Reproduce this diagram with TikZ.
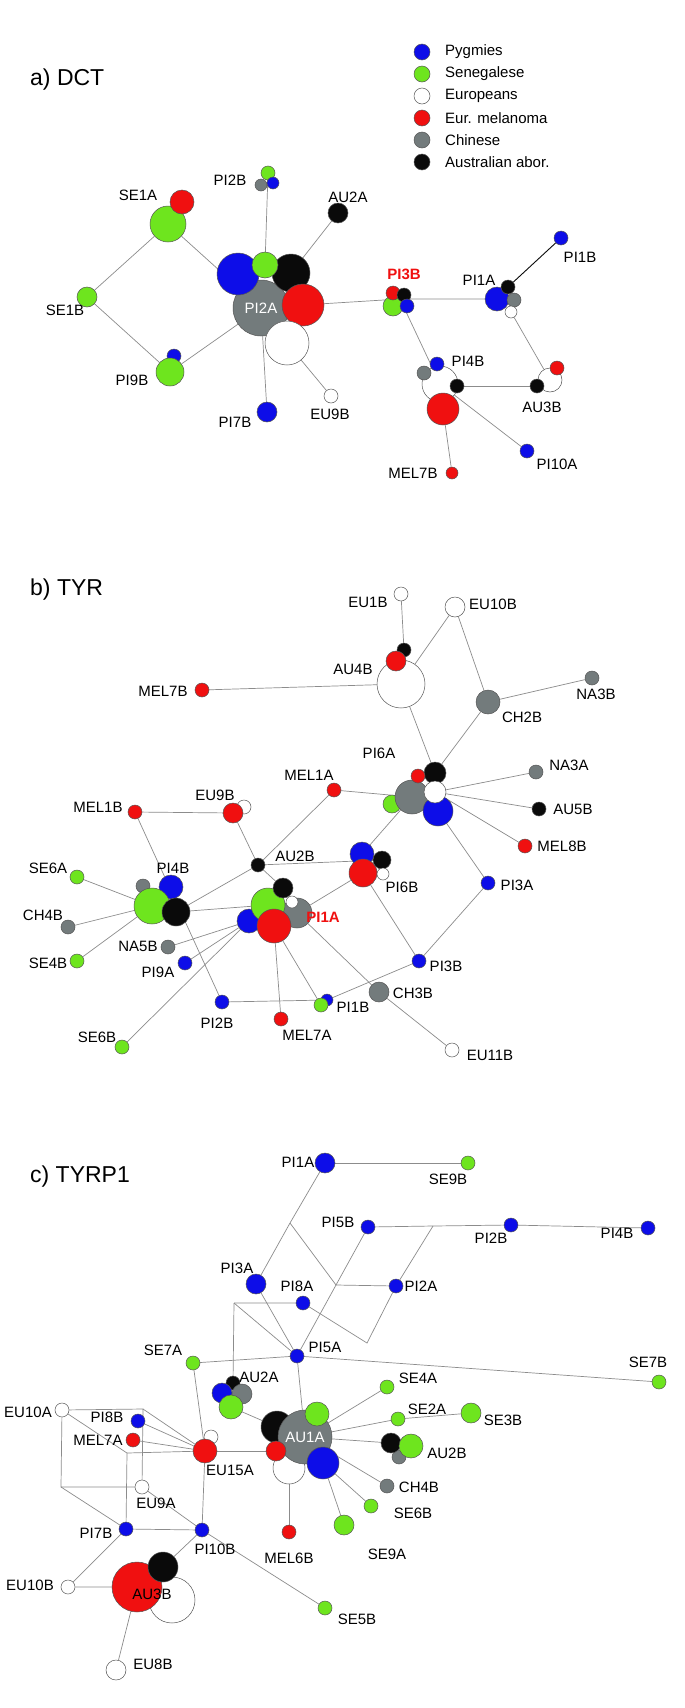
\documentclass[tikz,border=0pt]{standalone}
\usepackage{fontspec}
\setmainfont{Liberation Sans}
\usetikzlibrary{backgrounds}
\definecolor{Pyg}{HTML}{0D0DE8}
\definecolor{Sen}{HTML}{6EE51E}
\definecolor{Mel}{HTML}{F01010}
\definecolor{Chi}{HTML}{737B7C}
\definecolor{Aus}{HTML}{0A0A0A}
\definecolor{Rim}{HTML}{555555}
\definecolor{Line}{HTML}{8C8C8C}
\tikzset{
    hap/.style={circle, draw=Rim, line width=0.5pt, inner sep=0pt, minimum size=#1pt},
    pyg/.style={hap=#1, fill=Pyg},
    sen/.style={hap=#1, fill=Sen},
    eur/.style={hap=#1, fill=white},
    mel/.style={hap=#1, fill=Mel},
    chi/.style={hap=#1, fill=Chi},
    aus/.style={hap=#1, fill=Aus},
    lbl/.style={inner sep=0pt, font=\fontsize{15}{18}\selectfont},
    hot/.style={inner sep=0pt, text=Mel, font=\fontsize{15}{18}\selectfont\bfseries},
    ttl/.style={anchor=west, inner sep=0pt, font=\fontsize{23}{28}\selectfont},
    link/.style={draw=Line, line width=0.7pt},
}
\begin{document}
\begin{tikzpicture}[x=1pt, y=-1pt]
    \path[use as bounding box] (0,0) rectangle (685,1708);

    % Legend
    \foreach \c/\t [count=\i] in {Pyg/Pygmies, Sen/Senegalese, white/Europeans, Mel/Eur. melanoma, Chi/Chinese, Aus/Australian abor.}{
        \node[hap=16, fill=\c] (key\i) at (422,{30+22*\i}) {};
        \node[lbl, anchor=west] (key\i-l) at (445,{30+22*\i}) {\t};
    }

    % a) DCT
    \node[ttl] (ta) at (30,80) {a) DCT};
    \node[sen=36] (a-se1a) at (168,224) {};
    \node[mel=24] (a-se1a-r) at (182,202) {};
    \node[lbl] (a-se1a-l) at (138,195) {SE1A};
    \node[sen=20] (a-se1b) at (87,297) {};
    \node[lbl] (a-se1b-l) at (65,310) {SE1B};
    \node[pyg=14] (a-pi9b-b) at (174,356) {};
    \node[sen=28] (a-pi9b) at (170,372) {};
    \node[lbl] (a-pi9b-l) at (132,380) {PI9B};
    \node[chi=56, text=white, font=\fontsize{15}{18}\selectfont] (a-pi2a) at (261,308) {PI2A};
    \node[pyg=42] (a-pi2a-b) at (238,274) {};
    \node[aus=38] (a-pi2a-k) at (291,273) {};
    \node[mel=42] (a-pi2a-r) at (303,305) {};
    \node[eur=44] (a-pi2a-w) at (287,343) {};
    \node[sen=26] (a-pi2a-g) at (265,265) {};
    \node[sen=14] (a-pi2b) at (268,173) {};
    \node[chi=12] (a-pi2b-c) at (261,185) {};
    \node[pyg=12] (a-pi2b-b) at (273,183) {};
    \node[lbl] (a-pi2b-l) at (230,180) {PI2B};
    \node[aus=20] (a-au2a) at (338,213) {};
    \node[lbl] (a-au2a-l) at (348,197) {AU2A};
    \node[pyg=20] (a-pi7b) at (267,412) {};
    \node[lbl] (a-pi7b-l) at (235,422) {PI7B};
    \node[eur=14] (a-eu9b) at (331,396) {};
    \node[lbl] (a-eu9b-l) at (330,414) {EU9B};
    \coordinate (a-pi3b) at (400,299);
    \node[sen=20] (a-pi3b-g) at (393,306) {};
    \node[mel=14] (a-pi3b-r) at (393,293) {};
    \node[aus=14] (a-pi3b-k) at (404,295) {};
    \node[pyg=14] (a-pi3b-b) at (407,306) {};
    \node[hot] (a-pi3b-l) at (404,274) {PI3B};
    \node[pyg=24] (a-pi1a) at (497,299) {};
    \node[aus=14] (a-pi1a-k) at (508,287) {};
    \node[chi=14] (a-pi1a-c) at (514,300) {};
    \node[eur=12] (a-pi1a-w) at (511,312) {};
    \node[lbl] (a-pi1a-l) at (479,280) {PI1A};
    \node[pyg=14] (a-pi1b) at (561,238) {};
    \node[lbl] (a-pi1b-l) at (580,257) {PI1B};
    \node[eur=36] (a-pi4b) at (440,384) {};
    \node[pyg=14] (a-pi4b-b) at (437,364) {};
    \node[chi=14] (a-pi4b-c) at (424,373) {};
    \node[aus=14] (a-pi4b-k) at (457,386) {};
    \node[mel=32] (a-pi4b-r) at (443,409) {};
    \node[lbl] (a-pi4b-l) at (468,361) {PI4B};
    \node[eur=24] (a-au3b) at (550,380) {};
    \node[aus=14] (a-au3b-k) at (537,386) {};
    \node[mel=14] (a-au3b-r) at (557,368) {};
    \node[lbl] (a-au3b-l) at (542,407) {AU3B};
    \node[mel=12] (a-mel7b) at (452,473) {};
    \node[lbl] (a-mel7b-l) at (413,473) {MEL7B};
    \node[pyg=14] (a-pi10a) at (527,451) {};
    \node[lbl] (a-pi10a-l) at (557,464) {PI10A};

    % b) TYR
    \node[ttl] (tb) at (30,590) {b) TYR};
    \node[mel=14] (b-mel7b) at (202,690) {};
    \node[lbl] (b-mel7b-l) at (163,691) {MEL7B};
    \node[eur=14] (b-eu1b) at (401,594) {};
    \node[lbl] (b-eu1b-l) at (368,602) {EU1B};
    \node[eur=20] (b-eu10b) at (455,607) {};
    \node[lbl] (b-eu10b-l) at (493,604) {EU10B};
    \node[eur=48] (b-au4b) at (401,684) {};
    \node[aus=14] (b-au4b-k) at (404,650) {};
    \node[mel=20] (b-au4b-r) at (396,661) {};
    \node[lbl] (b-au4b-l) at (353,669) {AU4B};
    \node[chi=24] (b-ch2b) at (488,702) {};
    \node[lbl] (b-ch2b-l) at (522,717) {CH2B};
    \node[chi=14] (b-na3b) at (592,678) {};
    \node[lbl] (b-na3b-l) at (596,694) {NA3B};
    \node[sen=18] (b-pi6a-g) at (392,804) {};
    \node[chi=34] (b-pi6a) at (412,797) {};
    \node[pyg=30] (b-pi6a-b) at (438,811) {};
    \node[aus=22] (b-pi6a-k) at (435,773) {};
    \node[eur=22] (b-pi6a-w) at (435,792) {};
    \node[mel=14] (b-pi6a-r) at (418,776) {};
    \node[lbl] (b-pi6a-l) at (379,753) {PI6A};
    \node[chi=14] (b-na3a) at (536,772) {};
    \node[lbl] (b-na3a-l) at (569,765) {NA3A};
    \node[aus=14] (b-au5b) at (539,809) {};
    \node[lbl] (b-au5b-l) at (573,809) {AU5B};
    \node[mel=14] (b-mel8b) at (525,846) {};
    \node[lbl] (b-mel8b-l) at (562,846) {MEL8B};
    \node[mel=14] (b-mel1a) at (334,790) {};
    \node[lbl] (b-mel1a-l) at (309,775) {MEL1A};
    \node[eur=14] (b-eu9b-w) at (244,807) {};
    \node[mel=20] (b-eu9b) at (233,813) {};
    \node[lbl] (b-eu9b-l) at (215,795) {EU9B};
    \node[aus=14] (b-au2b) at (258,865) {};
    \node[lbl] (b-au2b-l) at (295,856) {AU2B};
    \node[pyg=24] (b-pi6b-b) at (362,854) {};
    \node[aus=18] (b-pi6b-k) at (382,860) {};
    \node[mel=28] (b-pi6b) at (363,873) {};
    \node[eur=12] (b-pi6b-w) at (383,874) {};
    \node[lbl] (b-pi6b-l) at (402,887) {PI6B};
    \node[pyg=14] (b-pi3a) at (488,883) {};
    \node[lbl] (b-pi3a-l) at (517,885) {PI3A};
    \node[chi=30] (b-pi1a-c) at (297,913) {};
    \node[pyg=24] (b-pi1a-b) at (249,921) {};
    \node[sen=34] (b-pi1a-g) at (268,905) {};
    \node[aus=20] (b-pi1a-k) at (283,888) {};
    \node[eur=12] (b-pi1a-w) at (292,902) {};
    \node[mel=34] (b-pi1a) at (274,926) {};
    \node[hot] (b-pi1a-l) at (323,917) {PI1A};
    \node[chi=14] (b-pi4b-c) at (143,886) {};
    \node[pyg=24] (b-pi4b-b) at (171,887) {};
    \node[sen=36] (b-pi4b) at (152,906) {};
    \node[aus=28] (b-pi4b-k) at (176,912) {};
    \node[lbl] (b-pi4b-l) at (173,868) {PI4B};
    \node[mel=14] (b-mel1b) at (135,812) {};
    \node[lbl] (b-mel1b-l) at (98,807) {MEL1B};
    \node[sen=14] (b-se6a) at (77,877) {};
    \node[lbl] (b-se6a-l) at (48,868) {SE6A};
    \node[chi=14] (b-ch4b) at (68,927) {};
    \node[lbl] (b-ch4b-l) at (43,915) {CH4B};
    \node[sen=14] (b-se4b) at (77,961) {};
    \node[lbl] (b-se4b-l) at (48,963) {SE4B};
    \node[chi=14] (b-na5b) at (168,947) {};
    \node[lbl] (b-na5b-l) at (138,946) {NA5B};
    \node[pyg=14] (b-pi9a) at (185,963) {};
    \node[lbl] (b-pi9a-l) at (158,972) {PI9A};
    \node[pyg=14] (b-pi2b) at (222,1002) {};
    \node[lbl] (b-pi2b-l) at (217,1023) {PI2B};
    \node[sen=14] (b-se6b) at (122,1047) {};
    \node[lbl] (b-se6b-l) at (97,1037) {SE6B};
    \node[mel=14] (b-mel7a) at (281,1019) {};
    \node[lbl] (b-mel7a-l) at (307,1035) {MEL7A};
    \node[pyg=12] (b-pi1b-b) at (327,1000) {};
    \node[sen=14] (b-pi1b) at (321,1005) {};
    \node[lbl] (b-pi1b-l) at (353,1007) {PI1B};
    \node[pyg=14] (b-pi3b) at (419,961) {};
    \node[lbl] (b-pi3b-l) at (446,966) {PI3B};
    \node[chi=20] (b-ch3b) at (379,992) {};
    \node[lbl] (b-ch3b-l) at (413,993) {CH3B};
    \node[eur=14] (b-eu11b) at (452,1050) {};
    \node[lbl] (b-eu11b-l) at (490,1055) {EU11B};

    % c) TYRP1
    \node[ttl] (tc) at (30,1177) {c) TYRP1};
    \node[pyg=20] (c-pi1a) at (325,1163) {};
    \node[lbl] (c-pi1a-l) at (298,1162) {PI1A};
    \node[sen=14] (c-se9b) at (468,1163) {};
    \node[lbl] (c-se9b-l) at (448,1179) {SE9B};
    \coordinate (c-j1) at (290,1223);
    \coordinate (c-j2) at (336,1285);
    \coordinate (c-j3) at (433,1226);
    \coordinate (c-j4) at (367,1343);
    \coordinate (c-j5) at (234,1303);
    \node[pyg=20] (c-pi3a) at (256,1284) {};
    \node[lbl] (c-pi3a-l) at (237,1268) {PI3A};
    \node[pyg=14] (c-pi2a) at (396,1286) {};
    \node[lbl] (c-pi2a-l) at (421,1286) {PI2A};
    \node[pyg=14] (c-pi5b) at (368,1227) {};
    \node[lbl] (c-pi5b-l) at (338,1222) {PI5B};
    \node[pyg=14] (c-pi2b) at (511,1225) {};
    \node[lbl] (c-pi2b-l) at (491,1238) {PI2B};
    \node[pyg=14] (c-pi4b) at (648,1228) {};
    \node[lbl] (c-pi4b-l) at (617,1233) {PI4B};
    \node[pyg=14] (c-pi8a) at (303,1303) {};
    \node[lbl] (c-pi8a-l) at (297,1286) {PI8A};
    \node[pyg=14] (c-pi5a) at (297,1356) {};
    \node[lbl] (c-pi5a-l) at (325,1347) {PI5A};
    \node[sen=14] (c-se7a) at (193,1363) {};
    \node[lbl] (c-se7a-l) at (163,1350) {SE7A};
    \node[sen=14] (c-se7b) at (659,1382) {};
    \node[lbl] (c-se7b-l) at (648,1362) {SE7B};
    \node[aus=14] (c-au2a-k) at (233,1383) {};
    \node[pyg=20] (c-au2a-b) at (222,1393) {};
    \node[chi=20] (c-au2a-c) at (242,1394) {};
    \node[sen=24] (c-au2a) at (231,1407) {};
    \node[lbl] (c-au2a-l) at (259,1377) {AU2A};
    \node[eur=32] (c-au1a-w) at (289,1468) {};
    \node[aus=32] (c-au1a-k) at (277,1427) {};
    \node[chi=54, text=white, font=\fontsize{15}{18}\selectfont] (c-au1a) at (305,1437) {AU1A};
    \node[sen=24] (c-au1a-g) at (317,1414) {};
    \node[mel=20] (c-au1a-r) at (276,1451) {};
    \node[pyg=32] (c-au1a-b) at (323,1463) {};
    \node[eur=14] (c-eu15a-w) at (211,1437) {};
    \node[mel=24] (c-eu15a) at (205,1451) {};
    \node[lbl] (c-eu15a-l) at (230,1470) {EU15A};
    \node[sen=14] (c-se4a) at (387,1387) {};
    \node[lbl] (c-se4a-l) at (418,1378) {SE4A};
    \node[sen=14] (c-se2a) at (398,1419) {};
    \node[lbl] (c-se2a-l) at (427,1409) {SE2A};
    \node[sen=20] (c-se3b) at (471,1413) {};
    \node[lbl] (c-se3b-l) at (503,1420) {SE3B};
    \node[chi=14] (c-au2b-c) at (399,1457) {};
    \node[aus=20] (c-au2b-k) at (391,1443) {};
    \node[sen=24] (c-au2b) at (411,1446) {};
    \node[lbl] (c-au2b-l) at (447,1453) {AU2B};
    \node[chi=14] (c-ch4b) at (387,1486) {};
    \node[lbl] (c-ch4b-l) at (419,1487) {CH4B};
    \node[sen=14] (c-se6b) at (371,1506) {};
    \node[lbl] (c-se6b-l) at (413,1513) {SE6B};
    \node[sen=20] (c-se9a) at (344,1525) {};
    \node[lbl] (c-se9a-l) at (387,1554) {SE9A};
    \node[mel=14] (c-mel6b) at (289,1532) {};
    \node[lbl] (c-mel6b-l) at (289,1558) {MEL6B};
    \node[eur=14] (c-eu10a) at (62,1410) {};
    \node[lbl] (c-eu10a-l) at (28,1412) {EU10A};
    \coordinate (c-q1) at (143,1409);
    \coordinate (c-q2) at (61,1487);
    \coordinate (c-q3) at (127,1453);
    \node[pyg=14] (c-pi8b) at (138,1421) {};
    \node[lbl] (c-pi8b-l) at (107,1417) {PI8B};
    \node[mel=14] (c-mel7a) at (133,1440) {};
    \node[lbl] (c-mel7a-l) at (98,1440) {MEL7A};
    \node[eur=14] (c-eu9a) at (142,1487) {};
    \node[lbl] (c-eu9a-l) at (156,1503) {EU9A};
    \node[pyg=14] (c-pi7b) at (126,1529) {};
    \node[lbl] (c-pi7b-l) at (96,1533) {PI7B};
    \node[pyg=14] (c-pi10b) at (202,1530) {};
    \node[lbl] (c-pi10b-l) at (215,1549) {PI10B};
    \node[eur=14] (c-eu10b) at (68,1587) {};
    \node[lbl] (c-eu10b-l) at (30,1585) {EU10B};
    \node[eur=46] (c-au3b-w) at (172,1600) {};
    \node[mel=50] (c-au3b) at (137,1587) {};
    \node[aus=30] (c-au3b-k) at (163,1567) {};
    \node[lbl] (c-au3b-l) at (152,1594) {AU3B};
    \node[eur=20] (c-eu8b) at (116,1670) {};
    \node[lbl] (c-eu8b-l) at (153,1664) {EU8B};
    \node[sen=14] (c-se5b) at (325,1608) {};
    \node[lbl] (c-se5b-l) at (357,1619) {SE5B};

    % Links
    \begin{scope}[on background layer]
        \fill[white] (0,0) rectangle (685,1708);
        \draw[link] (a-se1a) -- (a-pi2a);
        \draw[link] (a-se1a) -- (a-se1b) -- (a-pi9b) -- (a-pi2a);
        \draw[link] (a-pi2b) -- (a-pi2a-g);
        \draw[link] (a-au2a) -- (a-pi2a-k);
        \draw[link] (a-pi7b) -- (a-pi2a);
        \draw[link] (a-eu9b) -- (a-pi2a-w);
        \draw[link] (a-pi2a-r) -- (a-pi3b) -- (a-pi1a);
        \draw[link] (a-pi3b) -- (a-pi4b);
        \draw[Aus, line width=0.9pt] (a-pi1a-k) -- (a-pi1b);
        \draw[link] (a-pi1a-w) -- (a-au3b);
        \draw[link] (a-pi4b-k) -- (a-au3b-k);
        \draw[link] (a-pi4b-r) -- (a-mel7b);
        \draw[link] (a-pi4b) -- (a-pi10a);

        \draw[link] (b-mel7b) -- (b-au4b);
        \draw[link] (b-eu1b) -- (b-au4b-k);
        \draw[link] (b-au4b) -- (b-eu10b) -- (b-ch2b) -- (b-na3b);
        \draw[link] (b-au4b) -- (b-pi6a-k) -- (b-ch2b);
        \draw[link] (b-mel1a) -- (b-pi6a);
        \draw[link] (b-pi6a-w) -- (b-na3a);
        \draw[link] (b-pi6a-w) -- (b-au5b);
        \draw[link] (b-pi6a-w) -- (b-mel8b);
        \draw[link] (b-pi6a-b) -- (b-pi3a) -- (b-pi3b);
        \draw[link] (b-pi6a) -- (b-pi6b-b);
        \draw[link] (b-mel1a) -- (b-au2b) -- (b-pi6b-k);
        \draw[link] (b-eu9b) -- (b-au2b) -- (b-pi1a-k);
        \draw[link] (b-mel1b) -- (b-eu9b);
        \draw[link] (b-mel1b) -- (b-pi2b) -- (b-pi1b-b);
        \draw[link] (b-pi4b) -- (b-se6a);
        \draw[link] (b-pi4b) -- (b-ch4b);
        \draw[link] (b-pi4b) -- (b-se4b);
        \draw[link] (b-pi4b-k) -- (b-pi1a-g);
        \draw[link] (b-pi4b-k) -- (b-au2b);
        \draw[link] (b-pi1a-b) -- (b-na5b);
        \draw[link] (b-pi1a-b) -- (b-pi9a);
        \draw[link] (b-pi1a-b) -- (b-se6b);
        \draw[link] (b-pi1a) -- (b-mel7a);
        \draw[link] (b-pi1a) -- (b-pi1b);
        \draw[link] (b-pi1a-c) -- (b-ch3b) -- (b-eu11b);
        \draw[link] (b-pi1a-c) -- (b-pi6b);
        \draw[link] (b-pi6b) -- (b-pi3b) -- (b-pi1b-b);

        \draw[link] (c-pi1a) -- (c-se9b);
        \draw[link] (c-pi1a) -- (c-j1) -- (c-pi3a) -- (c-pi5a);
        \draw[link] (c-j1) -- (c-j2) -- (c-pi2a);
        \draw[link] (c-pi5b) -- (c-j2) -- (c-pi5a);
        \draw[link] (c-pi5b) -- (c-j3) -- (c-pi2b) -- (c-pi4b);
        \draw[link] (c-j3) -- (c-pi2a) -- (c-j4) -- (c-pi8a) -- (c-j5);
        \draw[link] (c-j5) -- (c-pi5a);
        \draw[link] (c-j5) -- (c-au2a-k);
        \draw[link] (c-se7a) -- (c-pi5a) -- (c-se7b);
        \draw[link] (c-pi5a) -- (c-au1a);
        \draw[link] (c-se7a) -- (c-eu15a);
        \draw[link] (c-au2a) -- (c-au1a-k);
        \draw[link] (c-eu15a) -- (c-au1a-r);
        \draw[link] (c-au1a) -- (c-se4a);
        \draw[link] (c-au1a) -- (c-se2a) -- (c-se3b);
        \draw[link] (c-au1a) -- (c-au2b-k);
        \draw[link] (c-au1a) -- (c-ch4b);
        \draw[link] (c-au1a-b) -- (c-se6b);
        \draw[link] (c-au1a-b) -- (c-se9a);
        \draw[link] (c-au1a-w) -- (c-mel6b);
        \draw[link] (c-eu10a) -- (c-q1) -- (c-eu9a) -- (c-q2) -- (c-eu10a);
        \draw[link] (c-eu10a) -- (c-q3) -- (c-pi7b) -- (c-q2);
        \draw[link] (c-q3) -- (c-eu15a) -- (c-pi10b) -- (c-pi7b);
        \draw[link] (c-eu9a) -- (c-pi10b);
        \draw[link] (c-q1) -- (c-eu15a);
        \draw[link] (c-pi8b) -- (c-eu15a);
        \draw[link] (c-mel7a) -- (c-eu15a);
        \draw[link] (c-pi10b) -- (c-au3b-k);
        \draw[link] (c-pi10b) -- (c-se5b);
        \draw[link] (c-pi7b) -- (c-eu10b) -- (c-au3b) -- (c-eu8b);
    \end{scope}
\end{tikzpicture}
\end{document}
